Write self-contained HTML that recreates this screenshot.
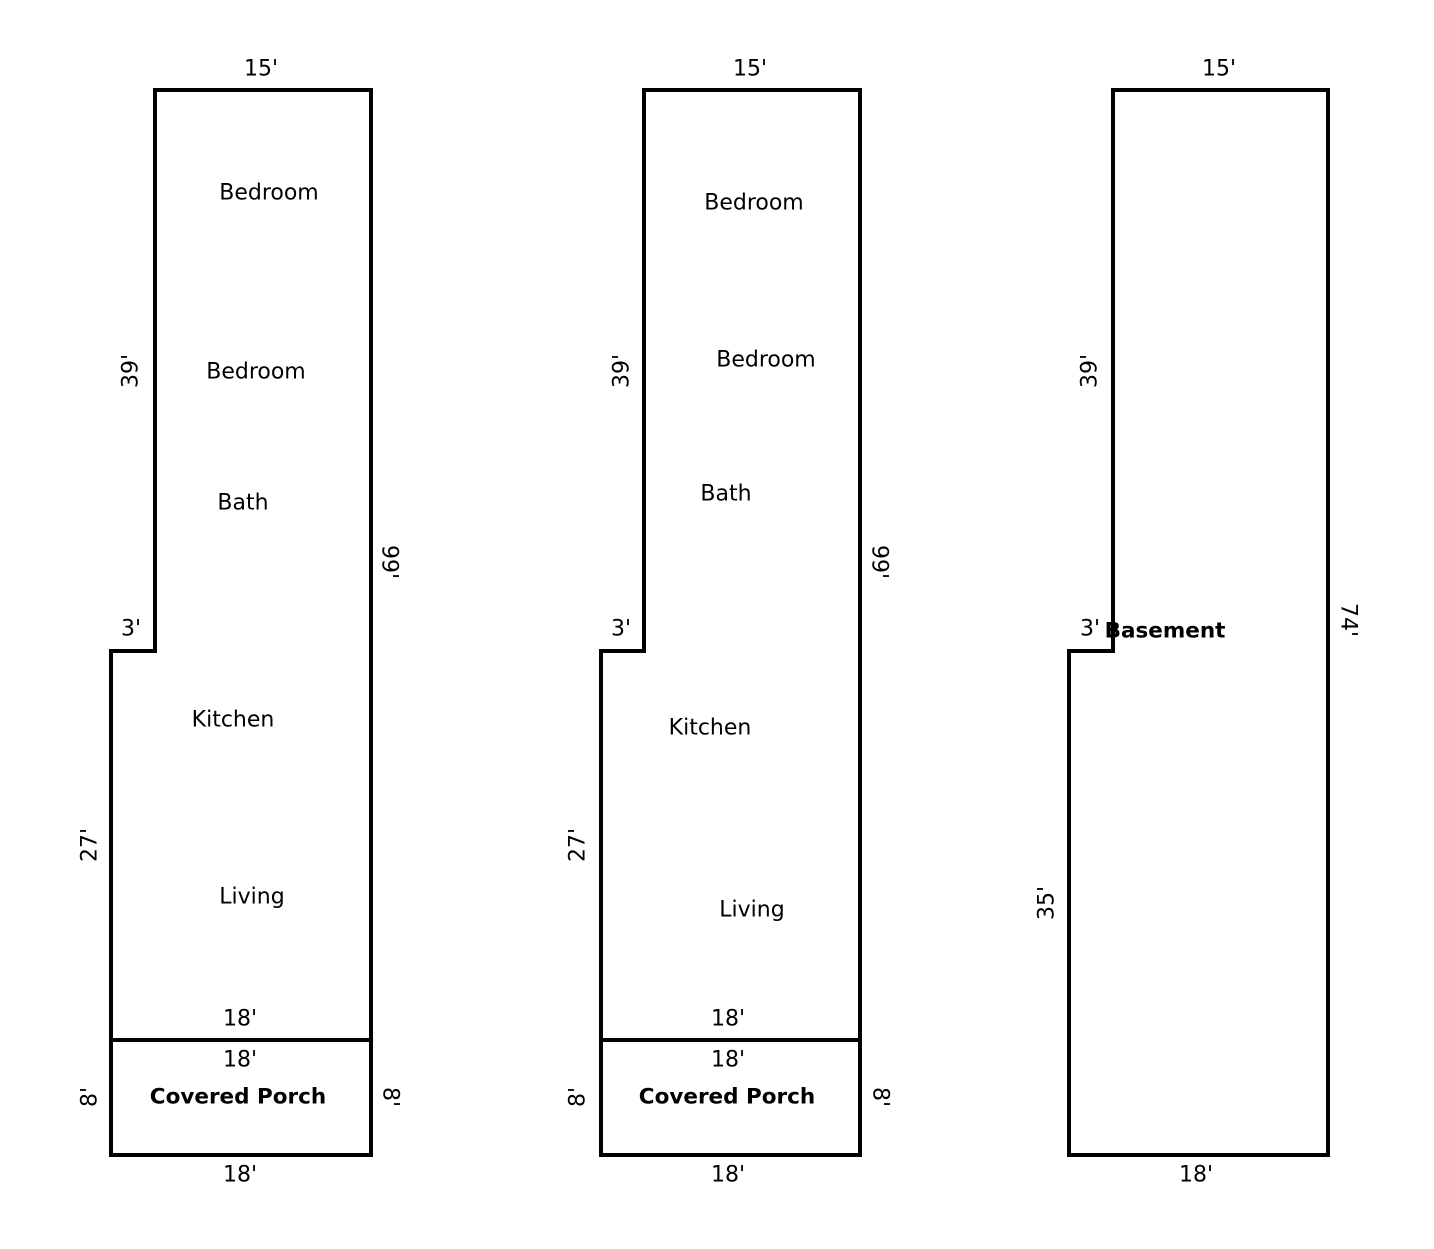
<!DOCTYPE html>
<html><head><meta charset="utf-8"><style>
html,body{margin:0;padding:0;background:#fff;}
svg text{font-family:"DejaVu Sans","Liberation Sans",sans-serif;font-size:22px;fill:#000;}
svg text.b{font-weight:bold;font-size:21.5px;}
</style></head><body>
<svg width="1434" height="1244" viewBox="0 0 1434 1244" xmlns="http://www.w3.org/2000/svg">
<g fill="none" stroke="#000" stroke-width="4" stroke-linejoin="miter">
<polygon points="155,90 371,90 371,1155 111,1155 111,651 155,651"/>
<line x1="111" y1="1040" x2="371" y2="1040"/>
<polygon points="644,90 860,90 860,1155 601,1155 601,651 644,651"/>
<line x1="601" y1="1040" x2="860" y2="1040"/>
<polygon points="1113,90 1328,90 1328,1155 1069,1155 1069,651 1113,651"/>
</g>
<g text-anchor="middle" dominant-baseline="central">
<text x="261" y="69">15'</text>
<text transform="translate(131,371) rotate(-90)">39'</text>
<text transform="translate(389,562) rotate(90)">99'</text>
<text x="131" y="629">3'</text>
<text transform="translate(90,845) rotate(-90)">27'</text>
<text x="240" y="1019">18'</text>
<text x="240" y="1060">18'</text>
<text x="240" y="1175">18'</text>
<text transform="translate(90,1097) rotate(-90)">8'</text>
<text transform="translate(390,1097) rotate(90)">8'</text>
<text x="269" y="193">Bedroom</text>
<text x="256" y="372">Bedroom</text>
<text x="243" y="503">Bath</text>
<text x="233" y="720">Kitchen</text>
<text x="252" y="897">Living</text>
<text class="b" x="238" y="1097">Covered Porch</text>
<text x="750" y="69">15'</text>
<text transform="translate(622,371) rotate(-90)">39'</text>
<text transform="translate(879,562) rotate(90)">99'</text>
<text x="621" y="629">3'</text>
<text transform="translate(578,845) rotate(-90)">27'</text>
<text x="728" y="1019">18'</text>
<text x="728" y="1060">18'</text>
<text x="728" y="1175">18'</text>
<text transform="translate(578,1097) rotate(-90)">8'</text>
<text transform="translate(880,1097) rotate(90)">8'</text>
<text x="754" y="203">Bedroom</text>
<text x="766" y="360">Bedroom</text>
<text x="726" y="494">Bath</text>
<text x="710" y="728">Kitchen</text>
<text x="752" y="910">Living</text>
<text class="b" x="727" y="1097">Covered Porch</text>
<text x="1219" y="69">15'</text>
<text transform="translate(1090,371) rotate(-90)">39'</text>
<text x="1090" y="629">3'</text>
<text class="b" x="1165" y="631">Basement</text>
<text transform="translate(1348,620) rotate(90)">74'</text>
<text transform="translate(1047,903) rotate(-90)">35'</text>
<text x="1196" y="1175">18'</text>
</g>
</svg>
</body></html>
